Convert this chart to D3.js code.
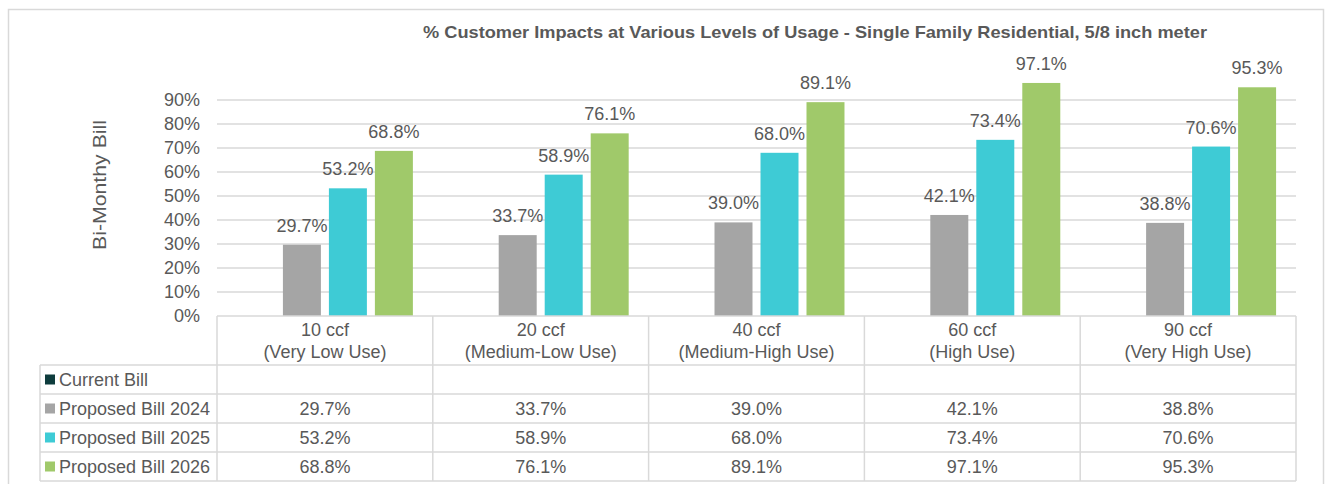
<!DOCTYPE html>
<html>
<head>
<meta charset="utf-8">
<script src="https://cdn.jsdelivr.net/npm/d3@7"></script>
<style>
  body { margin: 0; background: #fff; }
  text { font-family: "Liberation Sans", Arial, sans-serif; fill: #595959; }
</style>
</head>
<body>
<div id="chart"></div>
<script>
// chart data
const categories = ['10 ccf', '20 ccf', '40 ccf', '60 ccf', '90 ccf'];
const useLabels = ['(Very Low Use)', '(Medium-Low Use)', '(Medium-High Use)', '(High Use)', '(Very High Use)'];
const seriesNames = ['Current Bill', 'Proposed Bill 2024', 'Proposed Bill 2025', 'Proposed Bill 2026'];
const currentBill = [null, null, null, null, null];
const bill2024 = [29.7, 33.7, 39.0, 42.1, 38.8];
const bill2025 = [53.2, 58.9, 68.0, 73.4, 70.6];
const bill2026 = [68.8, 76.1, 89.1, 97.1, 95.3];
const yTicks = [0, 10, 20, 30, 40, 50, 60, 70, 80, 90];
const seriesColors = ['#0e3c3d', '#a5a5a5', '#3ecbd5', '#a0c96a'];

const seriesValues = [currentBill, bill2024, bill2025, bill2026];

const width = 1325, height = 484;
const svg = d3.select('#chart').append('svg')
    .attr('width', width)
    .attr('height', height);

// outer frame
svg.append('rect')
    .attr('x', 8.5).attr('y', 9.5)
    .attr('width', 1315).attr('height', 490)
    .attr('fill', 'none')
    .attr('stroke', '#d9d9d9')
    .attr('stroke-width', 1.5);

const plotLeft = 217, plotRight = 1296, plotBottom = 316;

const y = d3.scaleLinear().domain([0, 100]).range([plotBottom, plotBottom - 240]);
const x0 = d3.scaleBand().domain(categories).range([plotLeft, plotRight]).padding(0);
const x1 = d3.scaleBand().domain(seriesNames).range([0, x0.bandwidth()])
    .paddingInner(0.174).paddingOuter(0.433);

// title
svg.append('text')
    .attr('x', 815).attr('y', 38)
    .attr('text-anchor', 'middle')
    .attr('font-weight', 'bold')
    .attr('font-size', 17)
    .attr('textLength', 784)
    .attr('lengthAdjust', 'spacingAndGlyphs')
    .text('% Customer Impacts at Various Levels of Usage - Single Family Residential, 5/8 inch meter');

// gridlines
svg.append('g').selectAll('line')
    .data(yTicks.filter(d => d > 0))
    .join('line')
    .attr('x1', plotLeft).attr('x2', plotRight)
    .attr('y1', d => y(d)).attr('y2', d => y(d))
    .attr('stroke', '#d9d9d9')
    .attr('stroke-width', 1.3);

// y axis labels
const yAxis = svg.append('g')
    .attr('transform', 'translate(' + (plotLeft - 17) + ',0)')
    .call(d3.axisLeft(y).tickValues(yTicks).tickSize(0).tickPadding(0).tickFormat(d => d + '%'));
yAxis.select('.domain').remove();
yAxis.selectAll('text')
    .attr('font-size', 18)
    .attr('font-family', '"Liberation Sans", Arial, sans-serif')
    .attr('fill', '#595959');

svg.append('text')
    .attr('transform', 'translate(106,185) rotate(-90)')
    .attr('text-anchor', 'middle')
    .attr('font-size', 19)
    .attr('textLength', 130)
    .attr('lengthAdjust', 'spacingAndGlyphs')
    .text('Bi-Monthy Bill');

// bars
const barData = [];
seriesNames.forEach((s, si) => {
    categories.forEach((c, ci) => {
        const v = seriesValues[si][ci];
        if (v != null) barData.push({series: s, cat: c, value: v, color: seriesColors[si]});
    });
});

svg.append('g').selectAll('rect')
    .data(barData)
    .join('rect')
    .attr('x', d => x0(d.cat) + x1(d.series))
    .attr('y', d => y(d.value))
    .attr('width', x1.bandwidth())
    .attr('height', d => y(0) - y(d.value))
    .attr('fill', d => d.color);

svg.append('g').selectAll('text')
    .data(barData)
    .join('text')
    .attr('x', d => x0(d.cat) + x1(d.series) + x1.bandwidth() / 2)
    .attr('y', d => y(d.value) - 13)
    .attr('text-anchor', 'middle')
    .attr('font-size', 18)
    .text(d => d.value.toFixed(1) + '%');

// data table
const tableLeft = 40;
const headerBottom = 365;
const rowY = d3.scaleBand().domain(seriesNames).range([headerBottom, headerBottom + 29 * 4]);
const tableBottom = headerBottom + 29 * 4;
const grid = svg.append('g').attr('stroke', '#d9d9d9').attr('stroke-width', 1.5);

// axis line / header top
grid.append('line')
    .attr('x1', plotLeft).attr('x2', plotRight)
    .attr('y1', plotBottom).attr('y2', plotBottom);
// row lines
grid.selectAll('.rowline')
    .data(seriesNames)
    .join('line')
    .attr('x1', tableLeft).attr('x2', plotRight)
    .attr('y1', d => rowY(d)).attr('y2', d => rowY(d));
grid.append('line')
    .attr('x1', tableLeft).attr('x2', plotRight)
    .attr('y1', tableBottom).attr('y2', tableBottom);
// column lines
grid.selectAll('.colline')
    .data(categories)
    .join('line')
    .attr('x1', d => x0(d)).attr('x2', d => x0(d))
    .attr('y1', plotBottom).attr('y2', tableBottom);
grid.append('line')
    .attr('x1', plotRight).attr('x2', plotRight)
    .attr('y1', plotBottom).attr('y2', tableBottom);
grid.append('line')
    .attr('x1', tableLeft).attr('x2', tableLeft)
    .attr('y1', headerBottom).attr('y2', tableBottom);

// header labels
const header = svg.append('g').selectAll('g')
    .data(categories)
    .join('g');
header.append('text')
    .attr('x', d => x0(d) + x0.bandwidth() / 2)
    .attr('y', 336)
    .attr('text-anchor', 'middle')
    .attr('font-size', 18)
    .text(d => d);
header.append('text')
    .attr('x', d => x0(d) + x0.bandwidth() / 2)
    .attr('y', 358)
    .attr('text-anchor', 'middle')
    .attr('font-size', 18)
    .text((d, i) => useLabels[i]);

// row labels with legend keys
const rows = svg.append('g').selectAll('g')
    .data(seriesNames)
    .join('g');
rows.append('rect')
    .attr('x', 45)
    .attr('y', d => rowY(d) + rowY.bandwidth() / 2 - 5)
    .attr('width', 10).attr('height', 10)
    .attr('fill', (d, i) => seriesColors[i]);
rows.append('text')
    .attr('x', 59)
    .attr('y', d => rowY(d) + rowY.bandwidth() / 2 + 6.5)
    .attr('font-size', 18)
    .text(d => d);

// cell values
const cells = [];
seriesNames.forEach((s, si) => {
    categories.forEach((c, ci) => {
        const v = seriesValues[si][ci];
        if (v != null) cells.push({series: s, cat: c, value: v});
    });
});
svg.append('g').selectAll('text')
    .data(cells)
    .join('text')
    .attr('x', d => x0(d.cat) + x0.bandwidth() / 2)
    .attr('y', d => rowY(d.series) + rowY.bandwidth() / 2 + 6.5)
    .attr('text-anchor', 'middle')
    .attr('font-size', 18)
    .text(d => d.value.toFixed(1) + '%');
</script>
</body>
</html>
